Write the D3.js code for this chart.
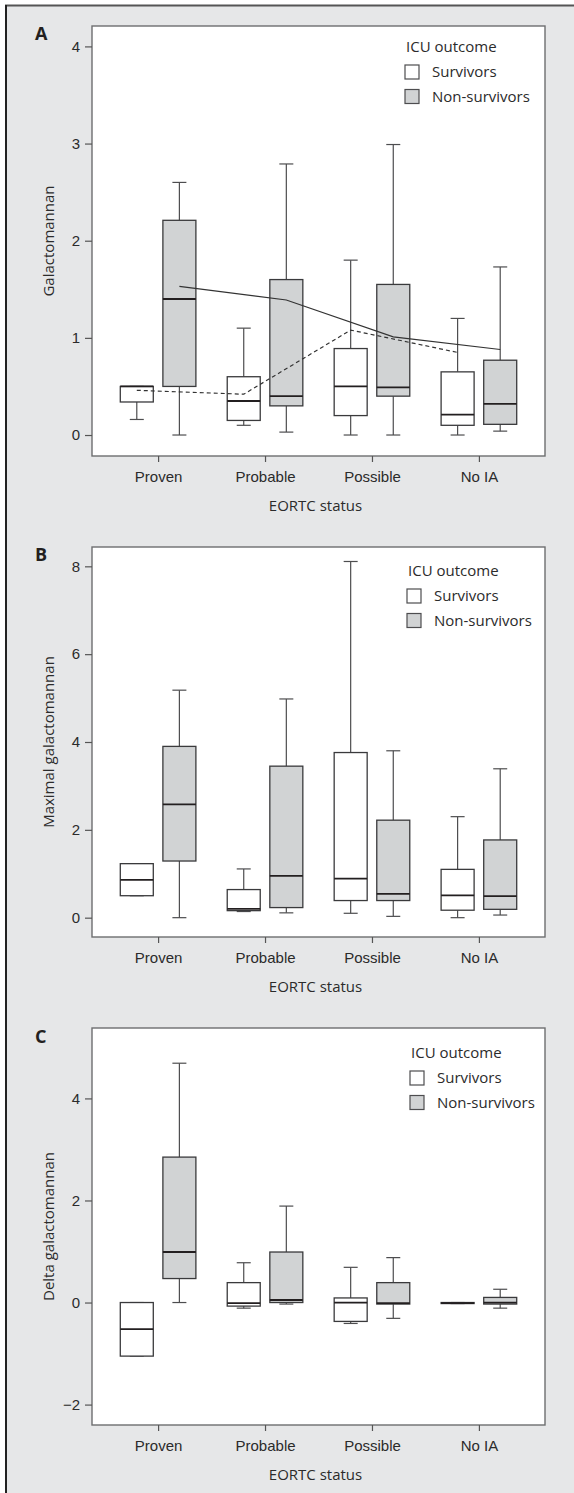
<!DOCTYPE html>
<html>
<head>
<meta charset="utf-8">
<script src="https://cdn.jsdelivr.net/npm/d3@7"></script>
<style>
  body { margin: 0; background: #fff; }
  svg { display: block; font-family: "Open Sans", "Noto Sans", sans-serif; }
</style>
</head>
<body>
<svg id="chart" width="574" height="1493"></svg>
<script>
// categories and groups
const categories = ['Proven', 'Probable', 'Possible', 'No IA'];
const groups = ['Survivors', 'Non-survivors'];

// tick labels per panel
const yTicksA = [0, 1, 2, 3, 4];
const yTicksB = [0, 2, 4, 6, 8];
const yTicksC = [-2, 0, 2, 4];

// box stats: [min, q1, median, q3, max] per category
const survA = [[0.16, 0.34, 0.50, 0.50, 0.50], [0.10, 0.15, 0.35, 0.60, 1.10], [0.00, 0.20, 0.50, 0.89, 1.80], [0.00, 0.10, 0.21, 0.65, 1.20]];
const nonA  = [[0.00, 0.50, 1.40, 2.21, 2.60], [0.03, 0.30, 0.40, 1.60, 2.79], [0.00, 0.40, 0.49, 1.55, 2.99], [0.04, 0.11, 0.32, 0.77, 1.73]];
const meanSurvA = [0.46, 0.42, 1.08, 0.85];
const meanNonA  = [1.53, 1.39, 1.01, 0.88];

const survB = [[0.50, 0.50, 0.86, 1.23, 1.23], [0.14, 0.16, 0.20, 0.64, 1.11], [0.10, 0.39, 0.89, 3.76, 8.11], [0.00, 0.17, 0.51, 1.10, 2.30]];
const nonB  = [[0.00, 1.29, 2.58, 3.90, 5.18], [0.11, 0.23, 0.95, 3.45, 4.98], [0.03, 0.39, 0.54, 2.22, 3.80], [0.06, 0.19, 0.49, 1.77, 3.39]];

const survC = [[-1.05, -1.05, -0.52, 0.00, 0.00], [-0.11, -0.07, -0.01, 0.39, 0.78], [-0.41, -0.37, 0.00, 0.09, 0.69], [-0.02, -0.02, -0.01, 0.00, 0.00]];
const nonC  = [[0.00, 0.47, 0.99, 2.85, 4.69], [-0.03, 0.00, 0.05, 0.99, 1.89], [-0.31, -0.03, -0.01, 0.39, 0.88], [-0.11, -0.03, 0.00, 0.10, 0.26]];

// layout
const W = 574, H = 1493;
const plotL = 92, plotR = 545;
const boxW = 33, offset = 21.3, capW = 14;
const fills = ['#ffffff', '#d1d3d4'];
const textCol = '#2b2b2b';
const fs = '15px';

const panels = [
  {label: 'A', top: 26, bottom: 456, domain: [-0.216, 4.21], ticks: yTicksA, title: 'Galactomannan',
   surv: survA, non: nonA, means: [meanSurvA, meanNonA], legX: 405, legY: 52, labelY: 40},
  {label: 'B', top: 547, bottom: 937, domain: [-0.44, 8.44], ticks: yTicksB, title: 'Maximal galactomannan',
   surv: survB, non: nonB, means: null, legX: 407, legY: 576, labelY: 561},
  {label: 'C', top: 1028, bottom: 1425, domain: [-2.40, 5.38], ticks: yTicksC, title: 'Delta galactomannan',
   surv: survC, non: nonC, means: null, legX: 410, legY: 1058, labelY: 1043}
];

const svg = d3.select('#chart');

// grey panel background with top/left rule
svg.append('rect').attr('x', 6).attr('y', 5).attr('width', W - 6).attr('height', H - 5).attr('fill', '#e6e7e8');
svg.append('line').attr('x1', 5).attr('x2', W).attr('y1', 5.5).attr('y2', 5.5).attr('stroke', '#555').attr('stroke-width', 2);
svg.append('line').attr('x1', 6).attr('x2', 6).attr('y1', 5).attr('y2', H).attr('stroke', '#222').attr('stroke-width', 2);

const x = d3.scalePoint().domain(categories).range([plotL, plotR]).padding(0.618);

panels.forEach(p => {
  const y = d3.scaleLinear().domain(p.domain).range([p.bottom, p.top]);
  const g = svg.append('g');

  g.append('rect')
    .attr('x', plotL).attr('y', p.top)
    .attr('width', plotR - plotL).attr('height', p.bottom - p.top)
    .attr('fill', '#fff').attr('stroke', '#6d6e70').attr('stroke-width', 1.4);

  // axes
  const yAxis = g.append('g').attr('transform', `translate(${plotL},0)`)
    .call(d3.axisLeft(y).tickValues(p.ticks).tickSize(7).tickSizeOuter(0).tickPadding(5)
      .tickFormat(d => d < 0 ? '\u2212' + Math.abs(d) : d));
  yAxis.select('.domain').remove();
  yAxis.selectAll('line').attr('stroke', '#555').attr('stroke-width', 1.2);
  yAxis.selectAll('text').attr('fill', textCol).style('font-size', fs);

  const xAxis = g.append('g').attr('transform', `translate(0,${p.bottom})`)
    .call(d3.axisBottom(x).tickSize(6).tickSizeOuter(0).tickPadding(9));
  xAxis.select('.domain').remove();
  xAxis.selectAll('line').attr('stroke', '#555').attr('stroke-width', 1.2);
  xAxis.selectAll('text').attr('fill', textCol).style('font-size', fs);

  g.append('text')
    .attr('x', (plotL + plotR) / 2 - 3).attr('y', p.bottom + 55)
    .attr('text-anchor', 'middle').attr('fill', textCol).style('font-size', fs)
    .text('EORTC status');

  g.append('text')
    .attr('transform', `translate(54,${(p.top + p.bottom) / 2}) rotate(-90)`)
    .attr('text-anchor', 'middle').attr('fill', textCol).style('font-size', fs)
    .text(p.title);

  g.append('text')
    .attr('x', 35).attr('y', p.labelY)
    .attr('fill', '#231f20').style('font-size', '18px').style('font-weight', 'bold')
    .text(p.label);

  // boxes
  [p.surv, p.non].forEach((stats, gi) => {
    const dx = gi ? offset : -offset;
    const bg = g.append('g');
    stats.forEach((s, i) => {
      const [mn, q1, md, q3, mx] = s;
      const cx = x(categories[i]) + dx;
      const w = bg.append('g').attr('stroke', '#4d4d4f').attr('stroke-width', 1.2);
      w.append('line').attr('x1', cx).attr('x2', cx).attr('y1', y(q3)).attr('y2', y(mx));
      w.append('line').attr('x1', cx).attr('x2', cx).attr('y1', y(q1)).attr('y2', y(mn));
      w.append('line').attr('x1', cx - capW / 2).attr('x2', cx + capW / 2).attr('y1', y(mx)).attr('y2', y(mx));
      w.append('line').attr('x1', cx - capW / 2).attr('x2', cx + capW / 2).attr('y1', y(mn)).attr('y2', y(mn));
      bg.append('rect')
        .attr('x', cx - boxW / 2).attr('y', y(q3))
        .attr('width', boxW).attr('height', Math.max(0.5, y(q1) - y(q3)))
        .attr('fill', fills[gi]).attr('stroke', '#3a3a3c').attr('stroke-width', 1.3);
      bg.append('line')
        .attr('x1', cx - boxW / 2).attr('x2', cx + boxW / 2)
        .attr('y1', y(md)).attr('y2', y(md))
        .attr('stroke', '#231f20').attr('stroke-width', 1.8);
    });
  });

  // mean lines (panel A only)
  if (p.means) {
    p.means.forEach((vals, gi) => {
      const dx = gi ? offset : -offset;
      const line = d3.line().x((d, i) => x(categories[i]) + dx).y(d => y(d));
      g.append('path').datum(vals)
        .attr('d', line).attr('fill', 'none')
        .attr('stroke', '#333').attr('stroke-width', 1.2)
        .attr('stroke-dasharray', gi ? null : '4,3');
    });
  }

  // legend
  const leg = g.append('g').attr('transform', `translate(${p.legX},${p.legY})`);
  leg.append('text').attr('x', 1).attr('y', 0).attr('fill', textCol).style('font-size', fs).text('ICU outcome');
  groups.forEach((name, gi) => {
    const ly = 13 + gi * 24.5;
    leg.append('rect').attr('x', 0).attr('y', ly).attr('width', 14).attr('height', 14)
      .attr('fill', fills[gi]).attr('stroke', '#4d4d4f').attr('stroke-width', 1.2);
    leg.append('text').attr('x', 27).attr('y', ly + 12).attr('fill', textCol)
      .style('font-size', fs).text(name);
  });
});
</script>
</body>
</html>
